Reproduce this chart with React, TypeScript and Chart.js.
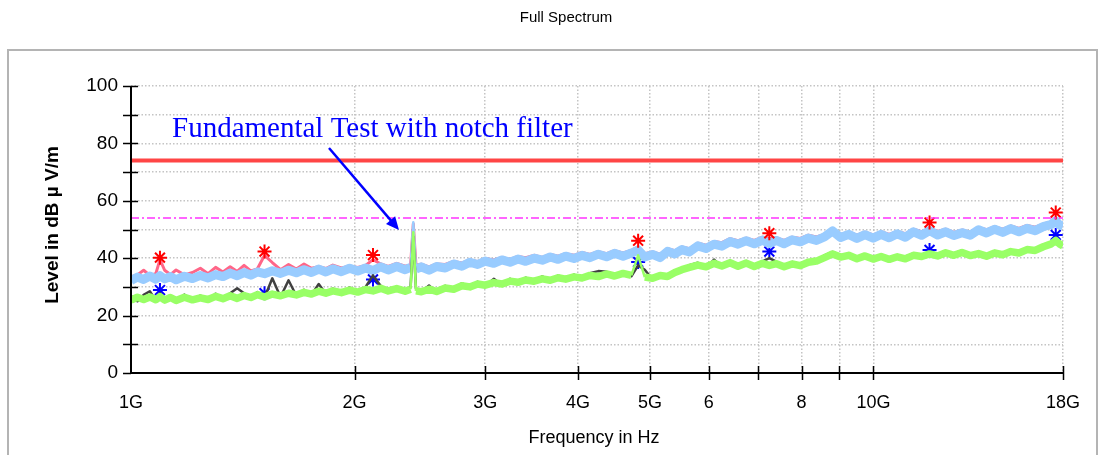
import React, { useEffect, useRef } from 'react';
import { Chart, registerables } from 'chart.js';

Chart.register(...registerables);

// Frequencies in GHz
const FREQ_GHZ = [
  1.00, 1.02, 1.04, 1.06, 1.08, 1.094, 1.11, 1.13, 1.15, 1.18,
  1.21, 1.24, 1.27, 1.30, 1.33, 1.36, 1.39, 1.42, 1.45, 1.48,
  1.513, 1.55, 1.59, 1.63, 1.67, 1.71, 1.75, 1.79, 1.83, 1.87,
  1.92, 1.97, 2.02, 2.07, 2.118, 2.17, 2.22, 2.28, 2.34, 2.38,
  2.40, 2.42, 2.46, 2.52, 2.58, 2.65, 2.72, 2.79, 2.86, 2.93,
  3.00, 3.08, 3.16, 3.24, 3.32, 3.40, 3.49, 3.58, 3.67, 3.76,
  3.85, 3.95, 4.05, 4.15, 4.26, 4.37, 4.48, 4.60, 4.72, 4.82,
  4.92, 5.04, 5.16, 5.28, 5.40, 5.52, 5.65, 5.80, 5.95, 6.10,
  6.25, 6.41, 6.57, 6.74, 6.91, 7.09, 7.24, 7.40, 7.58, 7.77,
  7.97, 8.17, 8.38, 8.59, 8.81, 9.03, 9.26, 9.50, 9.74, 9.99,
  10.24, 10.50, 10.77, 11.04, 11.32, 11.61, 11.90, 12.20, 12.51, 12.83,
  13.16, 13.50, 13.85, 14.20, 14.56, 14.93, 15.31, 15.70, 16.10, 16.51,
  16.93, 17.36, 17.60, 17.80, 18.00,
];

// Peak trace, horizontal (pink)
const PEAK_H = [
  33.5, 34.2, 35.8, 34.0, 34.6, 39.5, 35.8, 34.3, 35.9, 34.2,
  35.0, 36.5, 34.6, 36.8, 35.2, 37.0, 35.4, 37.5, 35.6, 36.3,
  41.0, 38.5, 36.0, 37.8, 36.2, 38.0, 36.5, 37.0, 36.4, 37.6,
  36.6, 37.2, 36.8, 37.5, 39.5, 38.0, 37.1, 38.2, 37.2, 37.6,
  52.0, 37.5, 37.9, 37.0, 38.0, 37.8, 38.9, 38.3, 39.5, 38.8,
  39.9, 39.4, 40.3, 39.6, 40.6, 40.2, 41.0, 40.3, 41.3, 40.7,
  41.6, 41.0, 42.0, 41.3, 42.3, 41.6, 42.6, 41.8, 42.7, 44.0,
  41.6, 42.2, 41.4, 43.3, 42.6, 43.9, 43.3, 45.2, 44.5, 45.8,
  45.4, 46.8, 46.1, 47.0, 46.2, 47.3, 46.8, 47.1, 46.2, 47.3,
  46.9, 48.0, 47.4, 48.3, 49.8, 48.3, 49.1, 48.0, 49.1, 48.1,
  49.2, 48.3, 49.3, 48.5, 50.1, 49.2, 50.4, 49.3, 50.1, 49.0,
  49.8, 49.1, 50.7, 49.9, 51.0, 50.1, 51.2, 50.4, 51.4, 50.8,
  51.9, 52.6, 53.6, 52.5, 52.0,
];

// Peak trace, vertical (light blue)
const PEAK_V = [
  32.2, 33.4, 32.6, 33.8, 32.7, 33.9, 32.8, 33.6, 32.5, 33.7,
  32.9, 34.0, 33.1, 34.3, 33.6, 34.8, 33.9, 35.0, 34.1, 35.2,
  34.6, 35.6, 34.7, 35.8, 34.9, 36.0, 35.0, 36.2, 35.2, 36.3,
  35.3, 36.5, 35.5, 36.6, 35.7, 37.0, 35.9, 37.1, 36.0, 36.8,
  52.5, 36.2, 37.0, 35.8, 37.1, 36.6, 38.0, 37.2, 38.6, 37.8,
  39.0, 38.2, 39.4, 38.6, 39.7, 38.9, 40.0, 39.3, 40.4, 39.6,
  40.7, 39.9, 41.0, 40.2, 41.4, 40.5, 41.7, 40.7, 41.8, 42.8,
  40.4, 41.3, 40.2, 42.4, 41.5, 43.0, 42.2, 44.3, 43.4, 44.9,
  44.2, 45.8, 44.9, 46.1, 45.0, 46.3, 45.1, 46.2, 45.0, 46.4,
  45.7, 47.0, 46.2, 47.4, 49.5, 47.2, 48.3, 46.9, 48.2, 47.0,
  48.3, 47.1, 48.5, 47.3, 49.2, 48.0, 49.6, 48.1, 49.2, 47.9,
  48.9, 48.0, 49.9, 48.8, 50.1, 49.0, 50.3, 49.2, 50.4, 49.6,
  51.0, 51.8, 53.0, 51.6, 51.2,
];

// Average trace, horizontal (dark grey)
const AVG_H = [
  26.8, 25.0, 27.2, 28.5, 25.2, 27.8, 25.0, 27.0, 25.0, 27.3,
  25.1, 27.0, 25.2, 27.6, 25.5, 27.8, 29.5, 27.8, 26.0, 28.2,
  26.2, 33.0, 26.5, 32.3, 26.9, 29.0, 27.2, 31.0, 27.5, 29.4,
  27.6, 29.8, 27.9, 30.0, 34.0, 30.3, 28.2, 30.1, 28.2, 30.0,
  47.5, 29.5, 28.0, 30.5, 28.0, 30.4, 28.9, 31.3, 29.6, 31.8,
  30.3, 32.8, 30.7, 32.8, 31.2, 33.2, 31.6, 33.7, 32.0, 34.0,
  32.4, 34.3, 32.8, 34.8, 35.5, 35.3, 33.5, 35.4, 33.7, 37.5,
  36.0, 32.6, 34.7, 33.2, 35.8, 35.6, 37.6, 38.4, 36.6, 39.5,
  37.0, 39.1, 36.9, 39.0, 36.8, 38.9, 40.0, 38.8, 36.7, 38.7,
  37.1, 39.3, 38.7, 41.0, 42.2, 41.1, 40.7, 40.6, 40.5, 40.4,
  40.3, 40.3, 40.2, 40.5, 41.7, 40.3, 42.3, 41.5, 41.6, 41.7,
  42.7, 40.6, 42.3, 40.4, 42.5, 40.9, 43.0, 41.5, 43.7, 42.4,
  44.7, 45.6, 47.0, 45.7, 45.0,
];

// Average trace, vertical (light green)
const AVG_V = [
  25.4, 26.4, 25.6, 26.5, 25.5, 26.6, 25.4, 26.3, 25.3, 26.4,
  25.5, 26.2, 25.6, 26.7, 25.9, 26.9, 26.0, 27.0, 26.3, 27.3,
  26.5, 27.5, 26.9, 27.8, 27.2, 28.1, 27.5, 28.5, 27.8, 28.6,
  28.0, 28.9, 28.2, 29.1, 28.6, 29.5, 28.6, 29.4, 28.5, 29.2,
  49.0, 28.6, 28.3, 29.2, 28.4, 29.6, 29.2, 30.4, 30.0, 31.0,
  30.6, 31.5, 31.0, 32.0, 31.6, 32.4, 32.0, 32.8, 32.3, 33.2,
  32.7, 33.5, 33.1, 34.0, 33.6, 34.5, 33.8, 34.7, 34.0, 41.0,
  33.4, 33.0, 34.0, 33.6, 35.0, 36.0, 36.8, 37.6, 37.0, 38.2,
  37.3, 38.4, 37.2, 38.3, 37.1, 38.2, 37.5, 38.1, 37.0, 38.0,
  37.4, 38.6, 39.0, 40.2, 41.5, 40.4, 41.0, 39.8, 40.8, 39.7,
  40.6, 39.6, 40.5, 39.8, 41.0, 40.6, 41.5, 40.8, 41.9, 41.0,
  42.0, 40.9, 41.6, 40.7, 41.8, 41.2, 42.3, 41.8, 43.0, 42.7,
  44.0, 45.0, 46.2, 45.0, 44.3,
];

// Final measurement markers
const MARK_FREQ = [1.094, 1.513, 2.118, 4.82, 7.24, 11.9, 17.6];
const MARK_PEAK = [40.2, 42.3, 41.1, 46.1, 48.7, 52.4, 55.9];
const MARK_AVG = [28.9, 27.8, 32.6, 38.7, 42.3, 42.9, 48.1];

// Limit lines
const LIMIT_FREQ = [1, 18];
const PEAK_LIMIT = [74, 74];
const AVG_LIMIT = [54, 54];

// Axis ticks
const X_TICKS = [1, 2, 3, 4, 5, 6, 7, 8, 9, 10, 18];
const X_TICK_LABELS = ['1G', '2G', '3G', '4G', '5G', '6', '', '8', '', '10G', '18G'];
const Y_TICK_STEP = 10;
const Y_LABEL_STEP = 20;

const SANS = '"Liberation Sans", Arial, Helvetica, sans-serif';
const SERIF = '"Liberation Serif", "Times New Roman", serif';

const pts = (xs: number[], ys: number[]) => xs.map((x, i) => ({ x, y: ys[i] }));

const decorPlugin = {
  id: 'decor',
  beforeDraw(chart: any) {
    const { ctx, width, height } = chart;
    ctx.save();
    ctx.fillStyle = '#ffffff';
    ctx.fillRect(0, 0, width, height);
    ctx.strokeStyle = '#b4b4b4';
    ctx.lineWidth = 2;
    ctx.strokeRect(8, 50, 1089, 430);
    ctx.fillStyle = '#000';
    ctx.font = '15px ' + SANS;
    ctx.textAlign = 'center';
    ctx.textBaseline = 'middle';
    ctx.fillText('Full Spectrum', 566, 18);
    ctx.font = '18px ' + SANS;
    ctx.fillText('Frequency in Hz', 594, 438);
    ctx.save();
    ctx.translate(53, 225);
    ctx.rotate(-Math.PI / 2);
    ctx.font = 'bold 19px ' + SANS;
    ctx.fillText('Level in dB \u00b5 V/m', 0, 0);
    ctx.restore();
    ctx.restore();
  },
  afterDatasetsDraw(chart: any) {
    const { ctx, chartArea, scales } = chart;
    const xs = scales.x;
    const ys = scales.y;
    ctx.save();
    ctx.strokeStyle = '#000';
    ctx.lineWidth = 2;
    ctx.beginPath();
    ctx.moveTo(chartArea.left, chartArea.top);
    ctx.lineTo(chartArea.left, chartArea.bottom);
    ctx.lineTo(chartArea.right, chartArea.bottom);
    ctx.stroke();
    ctx.lineWidth = 1.5;
    ctx.beginPath();
    for (let v = 0; v <= 100; v += Y_TICK_STEP) {
      const y = Math.round(ys.getPixelForValue(v)) + 0.5;
      ctx.moveTo(chartArea.left - 8, y);
      ctx.lineTo(chartArea.left + (v === 0 ? 0 : 7), y);
    }
    X_TICKS.forEach((t) => {
      const x = Math.round(xs.getPixelForValue(t)) + 0.5;
      if (t === X_TICKS[0]) return;
      ctx.moveTo(x, chartArea.bottom - 7);
      ctx.lineTo(x, chartArea.bottom + 7);
    });
    ctx.stroke();

    // annotation
    ctx.fillStyle = '#0000ff';
    ctx.font = '29px ' + SERIF;
    ctx.textAlign = 'left';
    ctx.textBaseline = 'alphabetic';
    ctx.fillText('Fundamental Test with notch filter', 172, 137);
    const x1 = 329, y1 = 148, x2 = 399, y2 = 230;
    const ang = Math.atan2(y2 - y1, x2 - x1);
    ctx.strokeStyle = '#0000ff';
    ctx.lineWidth = 2.5;
    ctx.beginPath();
    ctx.moveTo(x1, y1);
    ctx.lineTo(x2 - 8 * Math.cos(ang), y2 - 8 * Math.sin(ang));
    ctx.stroke();
    ctx.beginPath();
    ctx.moveTo(x2, y2);
    ctx.lineTo(x2 - 13 * Math.cos(ang) + 6 * Math.sin(ang), y2 - 13 * Math.sin(ang) - 6 * Math.cos(ang));
    ctx.lineTo(x2 - 13 * Math.cos(ang) - 6 * Math.sin(ang), y2 - 13 * Math.sin(ang) + 6 * Math.cos(ang));
    ctx.closePath();
    ctx.fill();
    ctx.restore();
  },
};

// thin stroke on steep spike segments so narrow spurs stay narrow
const spikeSegment = (thin: number) => ({
  borderWidth: (c: any) => (Math.abs(c.p1.parsed.y - c.p0.parsed.y) > 6 ? thin : undefined),
});

export default function App() {
  const ref = useRef<HTMLCanvasElement | null>(null);

  useEffect(() => {
    if (!ref.current) return;
    const lineBase = {
      pointRadius: 0,
      tension: 0,
      fill: false,
      borderJoinStyle: 'round' as const,
      borderCapStyle: 'butt' as const,
    };
    const chart = new Chart(ref.current, {
      type: 'line',
      data: {
        datasets: [
          {
            ...lineBase,
            label: 'Peak limit',
            data: pts(LIMIT_FREQ, PEAK_LIMIT),
            borderColor: '#ff4545',
            borderWidth: 4,
            order: 0,
          },
          {
            ...lineBase,
            label: 'Average limit',
            data: pts(LIMIT_FREQ, AVG_LIMIT),
            borderColor: '#ff33ff',
            borderWidth: 1.5,
            borderDash: [8, 3, 2, 3],
            order: 0,
          },
          {
            label: 'Peak final',
            data: pts(MARK_FREQ, MARK_PEAK),
            showLine: false,
            pointStyle: 'star',
            pointRadius: 7,
            pointBorderWidth: 2,
            borderColor: '#ff0000',
            backgroundColor: '#ff0000',
            order: 1,
          },
          {
            ...lineBase,
            label: 'Average V',
            data: pts(FREQ_GHZ, AVG_V),
            borderColor: '#99ff66',
            borderWidth: 7.5,
            segment: spikeSegment(2.5),
            order: 2,
          },
          {
            ...lineBase,
            label: 'Average H',
            data: pts(FREQ_GHZ, AVG_H),
            borderColor: '#404040',
            borderWidth: 2.5,
            order: 3,
          },
          {
            ...lineBase,
            label: 'Peak V',
            data: pts(FREQ_GHZ, PEAK_V),
            borderColor: '#99ccff',
            borderWidth: 9,
            segment: spikeSegment(2.5),
            order: 4,
          },
          {
            label: 'Average final',
            data: pts(MARK_FREQ, MARK_AVG),
            showLine: false,
            pointStyle: 'star',
            pointRadius: 7,
            pointBorderWidth: 2,
            borderColor: '#0000ff',
            backgroundColor: '#0000ff',
            order: 5,
          },
          {
            ...lineBase,
            label: 'Peak H',
            data: pts(FREQ_GHZ, PEAK_H),
            borderColor: '#ff6688',
            borderWidth: 3,
            order: 6,
          },
        ],
      },
      options: {
        responsive: false,
        animation: false,
        events: [],
        layout: { padding: { left: 0, top: 86, right: 36, bottom: 0 } },
        plugins: {
          legend: { display: false },
          tooltip: { enabled: false },
          title: { display: false },
        },
        scales: {
          x: {
            type: 'logarithmic',
            min: 1,
            max: 18,
            afterBuildTicks: (scale: any) => {
              scale.ticks = X_TICKS.map((v) => ({ value: v }));
            },
            afterFit: (scale: any) => {
              scale.height = 82;
            },
            ticks: {
              autoSkip: false,
              maxRotation: 0,
              minRotation: 0,
              padding: 19,
              color: '#000',
              font: { family: SANS, size: 18 },
              callback: (_v: any, i: number) => X_TICK_LABELS[i],
            },
            grid: {
              color: '#c4c4c4',
              lineWidth: 1.5,
              drawTicks: false,
            },
            border: { display: false, dash: [1.5, 2] },
          },
          y: {
            type: 'linear',
            min: 0,
            max: 100,
            afterFit: (scale: any) => {
              scale.width = 131;
            },
            ticks: {
              stepSize: Y_TICK_STEP,
              padding: 13,
              color: '#000',
              font: { family: SANS, size: 19 },
              callback: (v: any) => (Number(v) % Y_LABEL_STEP === 0 ? String(v) : ''),
            },
            grid: {
              color: (c: any) => (c.tick && c.tick.value === 0 ? 'rgba(0,0,0,0)' : '#c4c4c4'),
              lineWidth: 1.5,
              drawTicks: false,
            },
            border: { display: false, dash: [1.5, 2] },
          },
        },
      },
      plugins: [decorPlugin],
    } as any);
    return () => chart.destroy();
  }, []);

  return (
    <div style={{ position: 'absolute', left: 0, top: 0, width: 1099, height: 455 }}>
      <canvas ref={ref} width={1099} height={455} style={{ display: 'block', width: 1099, height: 455 }} />
    </div>
  );
}
